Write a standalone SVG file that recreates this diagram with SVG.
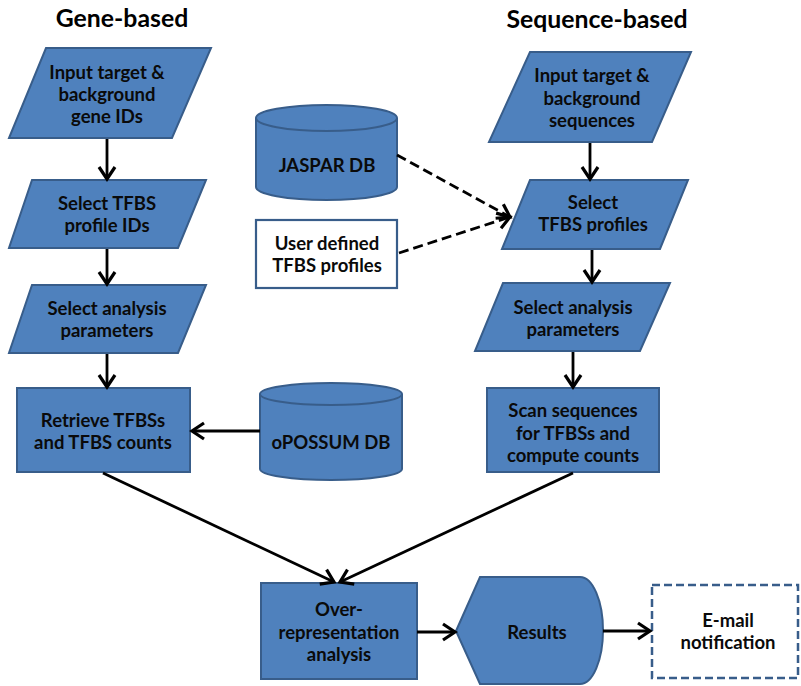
<svg xmlns="http://www.w3.org/2000/svg" width="801" height="686" viewBox="0 0 801 686">
  <style>
    .shape { fill: #4F81BD; stroke: #385D8A; stroke-width: 2; }
    .plain { fill: #FFFFFF; stroke: #385D8A; stroke-width: 2.2; }
    .dashbox { fill: #FFFFFF; stroke: #385D8A; stroke-width: 2.5; stroke-dasharray: 8 4; }
    .lbl { font-family: Lato, "Liberation Sans", sans-serif; font-weight: bold; font-size: 18.5px; fill: #0A0A0A; text-anchor: middle; dominant-baseline: central; }
    .title { font-family: Lato, "Liberation Sans", sans-serif; font-weight: bold; font-size: 24.8px; fill: #000000; text-anchor: middle; }
    .conn { stroke: #000000; stroke-width: 2.8; fill: none; marker-end: url(#arrow); }
    .dash { stroke-dasharray: 10 5; }
  </style>
  <defs>
    <marker id="arrow" markerUnits="userSpaceOnUse" markerWidth="18" markerHeight="20" viewBox="-14 -10 16 20" refX="0" refY="0" orient="auto">
      <path d="M-12,-8 L0,0 L-12,8" fill="none" stroke="#000000" stroke-width="3.2" stroke-dasharray="none" stroke-linejoin="miter"/>
    </marker>
  </defs>

  <rect width="801" height="686" fill="#FFFFFF"/>

  <text class="title" x="122" y="27">Gene-based</text>
  <text class="title" x="597" y="28">Sequence-based</text>

  <!-- gene-based column -->
  <g id="gene-input">
    <polygon class="shape" points="46,48 211,48 172,138 9,138"/>
    <text class="lbl" x="107" y="72">Input target &amp;</text>
    <text class="lbl" x="107" y="94">background</text>
    <text class="lbl" x="107" y="116">gene IDs</text>
  </g>
  <g id="gene-profiles">
    <polygon class="shape" points="32,180 206,180 178,248 9,248"/>
    <text class="lbl" x="107" y="203">Select TFBS</text>
    <text class="lbl" x="107" y="225">profile IDs</text>
  </g>
  <g id="gene-params">
    <polygon class="shape" points="32,285 206,285 178,353 9,353"/>
    <text class="lbl" x="107" y="308">Select analysis</text>
    <text class="lbl" x="107" y="330">parameters</text>
  </g>
  <g id="gene-retrieve">
    <rect class="shape" x="17" y="388" width="173" height="84"/>
    <text class="lbl" x="103" y="420">Retrieve TFBSs</text>
    <text class="lbl" x="103" y="442">and TFBS counts</text>
  </g>
  <g id="opossum-db">
    <path class="shape" d="M260,394 A71,11 0 0 1 402,394 L402,469 A71,11 0 0 1 260,469 Z"/>
    <path d="M260,394 A71,11 0 0 0 402,394" fill="none" stroke="#385D8A" stroke-width="2"/>
    <text class="lbl" x="331" y="442">oPOSSUM DB</text>
  </g>

  <!-- profile sources -->
  <g id="jaspar-db">
    <path class="shape" d="M256,118 A70.5,13 0 0 1 397,118 L397,187 A70.5,13 0 0 1 256,187 Z"/>
    <path d="M256,118 A70.5,13 0 0 0 397,118" fill="none" stroke="#385D8A" stroke-width="2"/>
    <text class="lbl" x="327" y="165">JASPAR DB</text>
  </g>
  <g id="user-profiles">
    <rect class="plain" x="256" y="220" width="141" height="68"/>
    <text class="lbl" x="327" y="243">User defined</text>
    <text class="lbl" x="327" y="265">TFBS profiles</text>
  </g>

  <!-- sequence-based column -->
  <g id="seq-input">
    <polygon class="shape" points="530,52 691,52 652,142 489,142"/>
    <text class="lbl" x="592" y="75">Input target &amp;</text>
    <text class="lbl" x="592" y="98">background</text>
    <text class="lbl" x="592" y="120">sequences</text>
  </g>
  <g id="seq-profiles">
    <polygon class="shape" points="530,180 688,180 660,249 502,249"/>
    <text class="lbl" x="593" y="202">Select</text>
    <text class="lbl" x="593" y="224">TFBS profiles</text>
  </g>
  <g id="seq-params">
    <polygon class="shape" points="503,283 670,283 640,351 475,351"/>
    <text class="lbl" x="573" y="307">Select analysis</text>
    <text class="lbl" x="573" y="329">parameters</text>
  </g>
  <g id="seq-scan">
    <rect class="shape" x="487" y="388" width="172" height="84"/>
    <text class="lbl" x="573" y="410">Scan sequences</text>
    <text class="lbl" x="573" y="433">for TFBSs and</text>
    <text class="lbl" x="573" y="455">compute counts</text>
  </g>

  <!-- shared tail -->
  <g id="overrep">
    <rect class="shape" x="261" y="583" width="156" height="96"/>
    <text class="lbl" x="339" y="609">Over-</text>
    <text class="lbl" x="339" y="632">representation</text>
    <text class="lbl" x="339" y="654">analysis</text>
  </g>
  <g id="results">
    <path class="shape" d="M456,631 L480,577 L580,577 A23,53.5 0 0 1 580,684 L480,684 Z"/>
    <text class="lbl" x="537" y="632">Results</text>
  </g>
  <g id="email">
    <rect class="dashbox" x="652" y="585" width="146" height="93"/>
    <text class="lbl" x="728" y="620">E-mail</text>
    <text class="lbl" x="728" y="642">notification</text>
  </g>

  <g id="connectors">
    <line class="conn" x1="107" y1="139" x2="107" y2="179"/>
    <line class="conn" x1="107" y1="249" x2="107" y2="284"/>
    <line class="conn" x1="107" y1="354" x2="107" y2="387"/>
    <line class="conn" x1="260" y1="431" x2="192" y2="431"/>
    <line class="conn" x1="103" y1="473" x2="334" y2="582"/>
    <line class="conn" x1="590" y1="143" x2="590" y2="179"/>
    <line class="conn" x1="592" y1="250" x2="592" y2="282"/>
    <line class="conn" x1="573" y1="352" x2="573" y2="387"/>
    <line class="conn" x1="573" y1="473" x2="340" y2="582"/>
    <line class="conn dash" x1="397" y1="155" x2="510" y2="217"/>
    <line class="conn dash" x1="399" y1="253" x2="510" y2="217"/>
    <line class="conn" x1="417" y1="632" x2="455" y2="632"/>
    <line class="conn" x1="603" y1="631" x2="650" y2="631"/>
  </g>
</svg>
